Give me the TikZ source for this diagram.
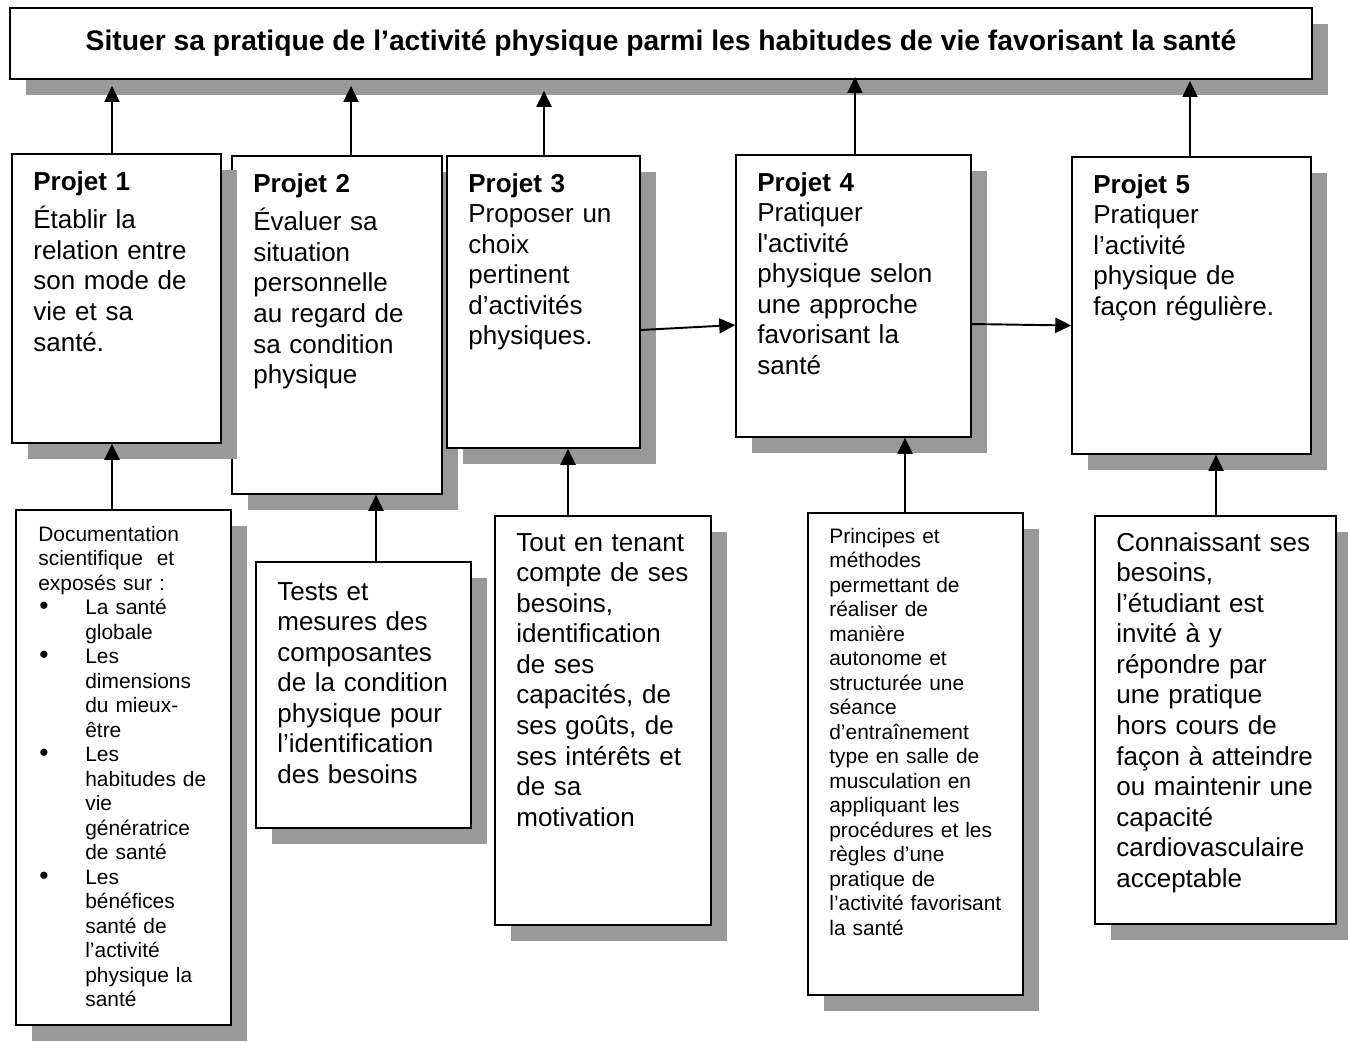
\documentclass[tikz,border=0pt]{standalone}
\usepackage{fontspec}
\setmainfont{Liberation Sans}
\usetikzlibrary{arrows.meta,fit,shadows,calc,positioning}
\definecolor{shadowgray}{HTML}{999999}

\newcommand{\blt}{\makebox[0.94cm][l]{\hspace{0.02cm}{\fontsize{15}{13.95}\selectfont\textbullet}}}
\newcommand{\ind}{\hspace*{0.94cm}}

\tikzset{
  card/.style={draw, line width=0.85pt, fill=white, inner sep=0pt,
    drop shadow={shadow xshift=0.32cm, shadow yshift=-0.32cm, fill=shadowgray, opacity=1}},
  bigtxt/.style={anchor=base west, inner sep=0pt, text width=5cm, align=left,
    font=\fontsize{14.8}{17.4}\selectfont},
  smalltxt/.style={anchor=base west, inner sep=0pt, text width=5cm, align=left,
    font=\fontsize{11.9}{13.95}\selectfont},
  arr/.style={-{Triangle[width=0.3cm,length=0.32cm]}, line width=1.1pt},
}

\begin{document}
\begin{tikzpicture}[x=0.02cm, y=-0.02cm]
  \useasboundingbox (0,0) rectangle (1348,1042);

  % titre
  \node[card, line width=1pt, fit={(10,8) (1312,79)}] (title) {};
  \node[font=\fontsize{16.1}{19}\selectfont\bfseries, inner sep=0pt] (tt) at (title.center)
    {Situer sa pratique de l’activité physique parmi les habitudes de vie favorisant la santé};

  % projets
  \node[card, fit={(232,156) (442,494)}] (p2) {};
  \node[bigtxt] (t2) at (253,192) {\textbf{Projet 2}\\[4.7pt]Évaluer sa\\situation\\personnelle\\au regard de\\sa condition\\physique};
  \node[card, fit={(12,154) (221,443)}] (p1) {};
  \node[bigtxt] (t1) at (33,190) {\textbf{Projet 1}\\[4.7pt]Établir la\\relation entre\\son mode de\\vie et sa\\santé.};
  \node[card, fit={(447,156) (640,448)}] (p3) {};
  \node[bigtxt] (t3) at (468,192) {\textbf{Projet 3}\\Proposer un\\choix\\pertinent\\d’activités\\physiques.};
  \node[card, fit={(736,155) (971,437)}] (p4) {};
  \node[bigtxt] (t4) at (757,191) {\textbf{Projet 4}\\Pratiquer\\l\textquotesingle activité\\physique selon\\une approche\\favorisant la\\santé};
  \node[card, fit={(1072,157) (1311,454)}] (p5) {};
  \node[bigtxt] (t5) at (1093,193) {\textbf{Projet 5}\\Pratiquer\\l’activité\\physique de\\façon régulière.};

  % contenus
  \node[card, fit={(16,510) (231,1025)}] (b1) {};
  \node[smalltxt] (s1) at (38,541) {Documentation\\scientifique\ \ et\\exposés sur :\\\blt La santé\\\ind globale\\\blt Les\\\ind dimensions\\\ind du mieux-\\\ind être\\\blt Les\\\ind habitudes de\\\ind vie\\\ind génératrice\\\ind de santé\\\blt Les\\\ind bénéfices\\\ind santé de\\\ind l’activité\\\ind physique la\\\ind santé};
  \node[card, fit={(256,562) (471,828)}] (b2) {};
  \node[bigtxt] (s2) at (277,600) {Tests et\\mesures des\\composantes\\de la condition\\physique pour\\l’identification\\des besoins};
  \node[card, fit={(495,516) (711,925)}] (b3) {};
  \node[bigtxt] (s3) at (516,551) {Tout en tenant\\compte de ses\\besoins,\\identification\\de ses\\capacités, de\\ses goûts, de\\ses intérêts et\\de sa\\motivation};
  \node[card, fit={(808,513) (1023,995)}] (b4) {};
  \node[smalltxt] (s4) at (829,543) {Principes et\\méthodes\\permettant de\\réaliser de\\manière\\autonome et\\structurée une\\séance\\d’entraînement\\type en salle de\\musculation en\\appliquant les\\procédures et les\\règles d’une\\pratique de\\l’activité favorisant\\la santé};
  \node[card, fit={(1095,516) (1336,924)}] (b5) {};
  \node[bigtxt] (s5) at (1116,551) {Connaissant ses\\besoins,\\l’étudiant est\\invité à y\\répondre par\\une pratique\\hors cours de\\façon à atteindre\\ou maintenir une\\capacité\\cardiovasculaire\\acceptable};

  % colonnes des fleches
  \coordinate (x1) at (112,0);
  \coordinate (x2) at (351,0);
  \coordinate (x2b) at (376,0);
  \coordinate (x3) at (544,0);
  \coordinate (x3b) at (568,0);
  \coordinate (x4) at (855,0);
  \coordinate (x4b) at (905,0);
  \coordinate (x5) at (1190,0);
  \coordinate (x5b) at (1216,0);

  \draw[arr, shorten >=3.4pt] (p1.north -| x1) -- (title.south -| x1);
  \draw[arr, shorten >=3.4pt] (p2.north -| x2) -- (title.south -| x2);
  \draw[arr, shorten >=6.2pt] (p3.north -| x3) -- (title.south -| x3);
  \draw[arr, shorten >=-1.7pt] (p4.north -| x4) -- (title.south -| x4);
  \draw[arr, shorten >=0.6pt] (p5.north -| x5) -- (title.south -| x5);

  \draw[arr] (b1.north -| x1) -- (p1.south -| x1);
  \draw[arr] (b2.north -| x2b) -- (p2.south -| x2b);
  \draw[arr] (b3.north -| x3b) -- (p3.south -| x3b);
  \draw[arr] (b4.north -| x4b) -- (p4.south -| x4b);
  \draw[arr] (b5.north -| x5b) -- (p5.south -| x5b);

  \draw[arr] ($(p3.east)+(0,28)$) -- ($(p4.west)+(0,29)$);
  \draw[arr] ($(p4.east)+(0,28)$) -- ($(p5.west)+(0,20)$);
\end{tikzpicture}
\end{document}
